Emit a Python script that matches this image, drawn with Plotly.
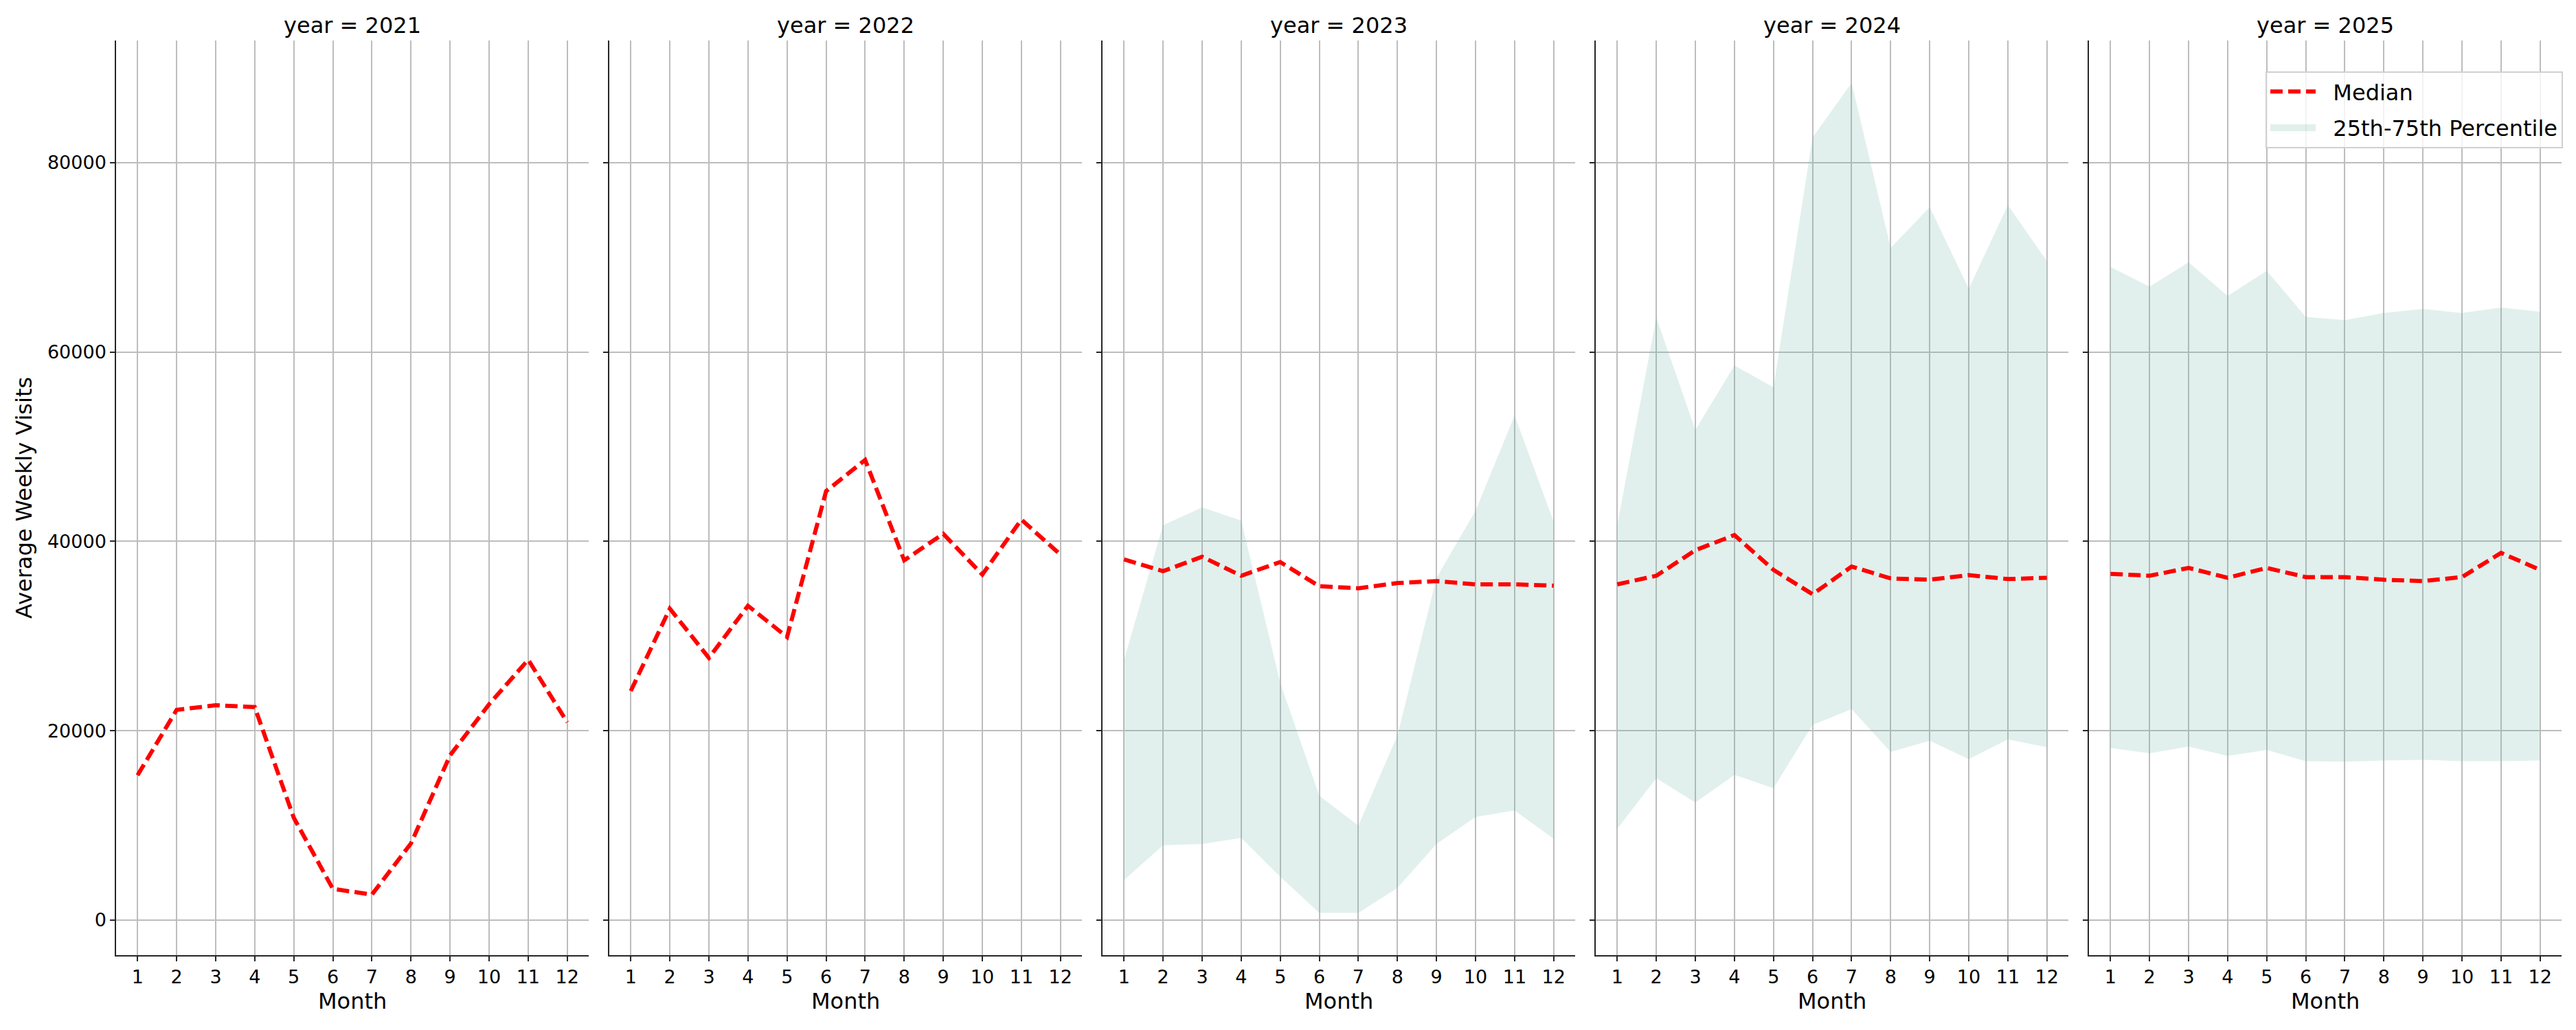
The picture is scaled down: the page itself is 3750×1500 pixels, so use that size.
import plotly.graph_objects as go
from plotly.subplots import make_subplots

# dados
months = [1, 2, 3, 4, 5, 6, 7, 8, 9, 10, 11, 12]
years = [2021, 2022, 2023, 2024, 2025]

median_2021 = [15300, 22200, 22700, 22500, 10800, 3300, 2700, 8100, 17400, 22800, 27500, 20900]
median_2022 = [24200, 32900, 27700, 33200, 29900, 45300, 48600, 38000, 40800, 36500, 42300, 38600]
median_2023 = [38100, 36850, 38380, 36370, 37820, 35260, 35050, 35600, 35810, 35460, 35460, 35320]
median_2024 = [35460, 36370, 39070, 40670, 36990, 34420, 37340, 36090, 35950, 36440, 36020, 36160]
median_2025 = [36570, 36370, 37200, 36160, 37200, 36230, 36230, 35950, 35810, 36230, 38790, 36990]

p25_2023 = [4230, 7910, 8050, 8680, 4580, 760, 760, 3400, 8050, 10900, 11590, 8600]
p75_2023 = [27480, 41710, 43580, 42200, 25050, 13120, 9990, 19500, 36160, 43240, 53300, 42060]
p25_2024 = [9650, 14990, 12420, 15340, 13950, 20610, 22280, 17770, 18950, 17000, 19090, 18250]
p75_2024 = [41710, 63640, 51770, 58570, 56280, 82660, 88420, 71000, 75300, 66690, 75510, 69610]
p25_2025 = [18180, 17630, 18320, 17350, 17970, 16790, 16730, 16860, 16930, 16790, 16790, 16860]
p75_2025 = [68980, 66900, 69470, 65930, 68570, 63710, 63360, 64130, 64540, 64130, 64680, 64260]

medians = [median_2021, median_2022, median_2023, median_2024, median_2025]
bands = [None, None, (p25_2023, p75_2023), (p25_2024, p75_2024), (p25_2025, p75_2025)]

FILL = 'rgba(105,179,162,0.2)'
ESP = '\u00a0\u00a0'  # espaco entre simbolo e texto na legenda
fig = make_subplots(rows=1, cols=5, shared_yaxes=True)

for i, ano in enumerate(years):
    col = i + 1
    if bands[i] is not None:
        low, high = bands[i]
        fig.add_trace(go.Scatter(x=months, y=low, mode='lines', line=dict(width=0),
                                 legendgroup='band', showlegend=False, hoverinfo='skip'),
                      row=1, col=col)
        fig.add_trace(go.Scatter(x=months, y=high, mode='lines', line=dict(width=0),
                                 fill='tonexty', fillcolor=FILL, name='25th-75th Percentile',
                                 legendgroup='band', showlegend=False), row=1, col=col)
    fig.add_trace(go.Scatter(x=months, y=medians[i], mode='lines',
                             line=dict(color='red', width=6, dash='18px,8px'),
                             name=ESP + 'Median', legendgroup='median', legendrank=1,
                             showlegend=(ano == 2025)), row=1, col=col)

# entrada da legenda para a faixa (retangulo mais alto que o simbolo padrao de fill)
fig.add_trace(go.Scatter(x=[None], y=[None], mode='lines', line=dict(color=FILL, width=22),
                         name=ESP + '25th-75th Percentile', legendgroup='band', legendrank=2),
              row=1, col=5)

# posicao dos paineis (a pagina tem 8px de margem no body)
start, width, step = 0.04293, 0.18347, 0.19147
y_dom = [0.078, 0.966]
annotations = []
for i, ano in enumerate(years):
    d0 = start + i * step
    dom = [d0, d0 + width]
    fig.update_xaxes(domain=dom, range=[0.45, 12.55], tickmode='array', tickvals=months,
                     ticks='outside', ticklen=7, tickwidth=1.5, tickcolor='#262626',
                     showline=True, linecolor='#262626', linewidth=1.5,
                     showgrid=True, gridcolor='#bdbdbd', gridwidth=2, zeroline=False,
                     tickfont=dict(size=27, color='black'), row=1, col=i + 1)
    fig.update_yaxes(domain=y_dom, range=[-3700, 92900], tickmode='array',
                     tickvals=[0, 20000, 40000, 60000, 80000], tickformat='d',
                     ticks='outside', ticklen=7, tickwidth=1.5, tickcolor='#262626',
                     showline=True, linecolor='#262626', linewidth=1.5,
                     showgrid=True, gridcolor='#bdbdbd', gridwidth=2, zeroline=False,
                     showticklabels=(i == 0),
                     tickfont=dict(size=27, color='black'), row=1, col=i + 1)
    center = (dom[0] + dom[1]) / 2
    annotations.append(dict(text=f'year = {ano}', x=center, y=0.9807, xref='paper', yref='paper',
                            xanchor='center', yanchor='middle', showarrow=False,
                            font=dict(size=32, color='black')))
    annotations.append(dict(text='Month', x=center, y=0.0333, xref='paper', yref='paper',
                            xanchor='center', yanchor='middle', showarrow=False,
                            font=dict(size=32, color='black')))

annotations.append(dict(text='Average Weekly Visits', x=0.0072, y=0.522, xref='paper', yref='paper',
                        xanchor='center', yanchor='middle', textangle=-90, showarrow=False,
                        font=dict(size=32, color='black')))

fig.update_layout(width=3750,
                  height=1500,
                  margin=dict(l=0, r=0, t=0, b=0),
                  plot_bgcolor='white',
                  paper_bgcolor='white',
                  font_family='DejaVu Sans',
                  font_color='black',
                  annotations=annotations,
                  legend=dict(x=0.9928, y=0.936, xanchor='right', yanchor='top',
                              bgcolor='rgba(255,255,255,0.8)', bordercolor='#d0d0d0', borderwidth=2,
                              font=dict(size=32), itemwidth=66, traceorder='grouped',
                              tracegroupgap=8))

fig.write_html('out.html')
